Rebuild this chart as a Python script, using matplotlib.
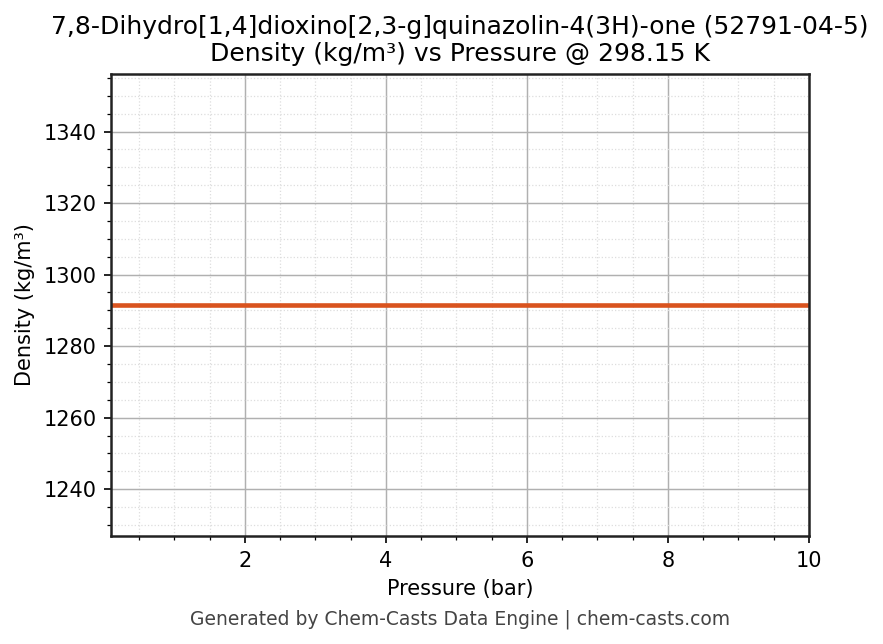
import matplotlib
matplotlib.use('Agg')
import matplotlib.pyplot as plt
import matplotlib.ticker as ticker
import numpy as np

# pressure sweep in bar, density in kg/m3
pressures = [0.1, 1.0, 2.0, 3.0, 4.0, 5.0, 6.0, 7.0, 8.0, 9.0, 10.0]
densities = [1291.5, 1291.5, 1291.5, 1291.5, 1291.5, 1291.5,
             1291.5, 1291.5, 1291.5, 1291.5, 1291.5]

title = '7,8-Dihydro[1,4]dioxino[2,3-g]quinazolin-4(3H)-one (52791-04-5)\nDensity (kg/m\u00b3) vs Pressure @ 298.15 K'

fig = plt.figure(figsize=(883 / 150, 644 / 150), dpi=150)
ax = fig.add_axes([111 / 883, 1 - 536 / 644, (809 - 111) / 883, (536 - 74) / 644])

ax.plot(pressures, densities, color='#d9531e', linewidth=2.2)

mean = np.mean(densities)
ax.set_ylim(mean * 0.95, mean * 1.05)
ax.set_xlim(min(pressures), max(pressures))

ax.xaxis.set_major_locator(ticker.MultipleLocator(2))
ax.xaxis.set_minor_locator(ticker.MultipleLocator(0.5))
ax.yaxis.set_major_locator(ticker.MultipleLocator(20))
ax.yaxis.set_minor_locator(ticker.MultipleLocator(5))

ax.grid(which='major', color='#b0b0b0', linewidth=0.7)
ax.grid(which='minor', color='#dddddd', linestyle=':', linewidth=0.6)
ax.set_axisbelow(True)

for spine in ax.spines.values():
    spine.set_linewidth(1.2)
    spine.set_color('#222222')

ax.set_xlabel('Pressure (bar)', fontsize=10)
ax.set_ylabel('Density (kg/m\u00b3)', fontsize=10)
ax.set_title(title, fontsize=12)
ax.tick_params(labelsize=10)

fig.text(460 / 883, 1 - 619 / 644, 'Generated by Chem-Casts Data Engine | chem-casts.com',
         ha='center', va='center', fontsize=9, color='#444444')

fig.savefig('out.png', dpi=150)
